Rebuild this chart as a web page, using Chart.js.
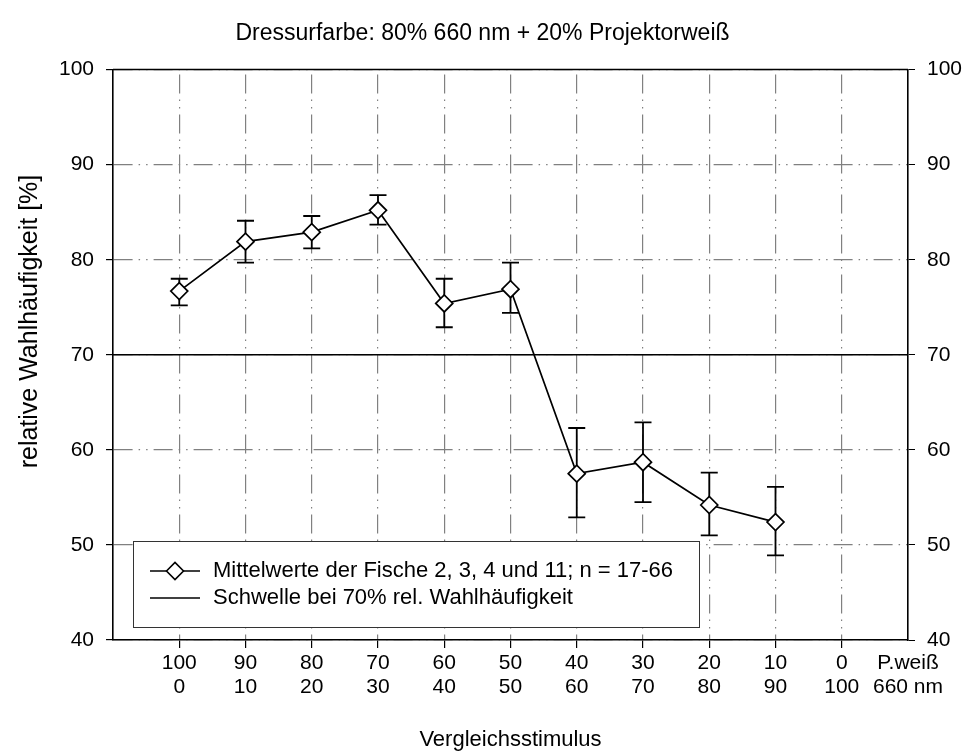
<!DOCTYPE html>
<html>
<head>
<meta charset="utf-8">
<title>Wahlhäufigkeit</title>
<style>
  html, body { margin: 0; padding: 0; background: #fff; }
</style>
</head>
<body>
<canvas id="wahl" width="965" height="755"></canvas>

<script src="https://cdn.jsdelivr.net/npm/chart.js@4.4.1/dist/chart.umd.min.js"></script>
<script>
	// Vergleichsstimuli: obere Zeile Anteil Projektorweiß, untere Zeile Anteil 660 nm
	var anteilWeiss = ["100", "90", "80", "70", "60", "50", "40", "30", "20", "10", "0"];
	var anteil660 = ["0", "10", "20", "30", "40", "50", "60", "70", "80", "90", "100"];
	var einheiten = ["P.weiß", "660 nm"];

	// Mittelwerte mit oberer und unterer Grenze der Fehlerbalken
	var mittelwerte = [76.7, 81.9, 82.9, 85.2, 75.4, 76.9, 57.5, 58.7, 54.2, 52.4];
	var fehlerOben = [78.0, 84.1, 84.6, 86.8, 78.0, 79.7, 62.3, 62.9, 57.6, 56.1];
	var fehlerUnten = [75.2, 79.7, 81.2, 83.7, 72.9, 74.4, 52.9, 54.5, 51.0, 48.9];

	var schwelle = 70;
	var yTicks = [40, 50, 60, 70, 80, 90, 100];
	var yTitel = "relative Wahlhäufigkeit [%]";

	var schrift = "'Liberation Sans', Arial, sans-serif";
	var gitterFarbe = "#808080";
	var gitterStrich = [19, 6, 1.5, 6, 1.5, 6];

	// Punkte und Schwellenlinie aus den Arrays
	var punkte = mittelwerte.map(function(w, i){ return {x: i + 1, y: w}; });
	var schwellenLinie = [{x: 0, y: schwelle}, {x: anteilWeiss.length + 1, y: schwelle}];

	// Fehlerbalken unter den Rauten
	var fehlerbalken = {
		id: "fehlerbalken",
		beforeDatasetsDraw: function(chart){
			var sx = chart.scales.x, sy = chart.scales.y, ctx = chart.ctx;
			ctx.save();
			ctx.strokeStyle = "#000";
			ctx.lineWidth = 1.8;
			mittelwerte.forEach(function(w, i){
				var px = sx.getPixelForValue(i + 1);
				var yo = sy.getPixelForValue(fehlerOben[i]);
				var yu = sy.getPixelForValue(fehlerUnten[i]);
				ctx.beginPath();
				ctx.moveTo(px, yo); ctx.lineTo(px, yu);
				ctx.moveTo(px - 8.5, yo); ctx.lineTo(px + 8.5, yo);
				ctx.moveTo(px - 8.5, yu); ctx.lineTo(px + 8.5, yu);
				ctx.stroke();
			});
			ctx.restore();
		}
	};

	// Oberer Rahmen, y-Achsentitel und Legende im Diagramm
	var rahmenLegende = {
		id: "rahmenLegende",
		afterDraw: function(chart){
			var a = chart.chartArea, ctx = chart.ctx;
			var ds = chart.data.datasets;
			ctx.save();
			ctx.strokeStyle = "#000";
			ctx.lineWidth = 1.5;
			ctx.beginPath();
			ctx.moveTo(a.left, a.top);
			ctx.lineTo(a.right, a.top);
			ctx.stroke();

			// Achsentitel links, etwas oberhalb der Mitte
			ctx.save();
			ctx.translate(30, chart.scales.y.getPixelForValue(73.5));
			ctx.rotate(-Math.PI / 2);
			ctx.fillStyle = "#000";
			ctx.font = "25px " + schrift;
			ctx.textAlign = "center";
			ctx.textBaseline = "middle";
			ctx.fillText(yTitel, 0, 0);
			ctx.restore();

			var bx = a.left + 20, by = a.bottom - 99, bw = 566, bh = 86;
			ctx.fillStyle = "#fff";
			ctx.fillRect(bx, by, bw, bh);
			ctx.strokeStyle = "#333";
			ctx.lineWidth = 1;
			ctx.strokeRect(bx + 0.5, by + 0.5, bw, bh);

			var zeilen = [by + 30, by + 57];
			ctx.strokeStyle = "#000";
			ctx.lineWidth = 1.6;
			zeilen.forEach(function(zy){
				ctx.beginPath();
				ctx.moveTo(bx + 17, zy);
				ctx.lineTo(bx + 67, zy);
				ctx.stroke();
			});
			// Raute im ersten Eintrag
			var rx = bx + 42, ry = zeilen[0], r = 8.5;
			ctx.beginPath();
			ctx.moveTo(rx - r, ry); ctx.lineTo(rx, ry - r);
			ctx.lineTo(rx + r, ry); ctx.lineTo(rx, ry + r);
			ctx.closePath();
			ctx.fillStyle = "#fff";
			ctx.fill();
			ctx.stroke();

			ctx.fillStyle = "#000";
			ctx.font = "22px " + schrift;
			ctx.textBaseline = "middle";
			ctx.textAlign = "left";
			ctx.fillText(ds[0].label, bx + 80, zeilen[0]);
			ctx.fillText(ds[1].label, bx + 80, zeilen[1]);
			ctx.restore();
		}
	};

	Chart.defaults.font.family = schrift;
	Chart.defaults.color = "#000";

	var myChart = new Chart(document.getElementById("wahl"), {
		type: "line",
		data: {
			datasets: [{
				label: "Mittelwerte der Fische 2, 3, 4 und 11; n = 17-66",
				data: punkte,
				borderColor: "#000",
				borderWidth: 1.7,
				pointStyle: "rectRot",
				pointRadius: 8.5,
				pointBorderWidth: 1.7,
				pointBackgroundColor: "#fff",
				pointBorderColor: "#000",
				tension: 0
			}, {
				label: "Schwelle bei 70% rel. Wahlhäufigkeit",
				data: schwellenLinie,
				borderColor: "#000",
				borderWidth: 1.5,
				pointRadius: 0
			}]
		},
		options: {
			responsive: false,
			animation: false,
			layout: { padding: 0 },
			plugins: {
				legend: { display: false },
				tooltip: { enabled: false },
				title: {
					display: true,
					text: "Dressurfarbe: 80% 660 nm + 20% Projektorweiß",
					font: { size: 23, weight: "normal" },
					color: "#000",
					padding: { top: 20, bottom: 22 }
				}
			},
			scales: {
				x: {
					type: "linear",
					min: 0,
					max: anteilWeiss.length + 1,
					afterBuildTicks: function(scale){
						var t = [];
						for(var i = 1; i <= anteilWeiss.length + 1; i++) t.push({value: i});
						scale.ticks = t;
					},
					afterFit: function(scale){ scale.height = 115; },
					ticks: {
						autoSkip: false,
						maxRotation: 0,
						padding: 3,
						font: { size: 21, lineHeight: 1.15 },
						callback: function(v){
							if(v > anteilWeiss.length) return einheiten;
							return [anteilWeiss[v - 1], anteil660[v - 1]];
						}
					},
					grid: {
						color: function(c){ return c.tick && c.tick.value > anteilWeiss.length ? "transparent" : gitterFarbe; },
						tickColor: function(c){ return c.tick && c.tick.value > anteilWeiss.length ? "transparent" : "#000"; },
						tickLength: 8,
						lineWidth: 1.2
					},
					border: { color: "#000", width: 1.6, dash: gitterStrich, dashOffset: -5 },
					title: {
						display: true,
						text: "Vergleichsstimulus",
						font: { size: 22 },
						padding: { top: 0, bottom: 2 }
					}
				},
				y: {
					position: "left",
					min: 40,
					max: 100,
					afterBuildTicks: function(scale){
						scale.ticks = yTicks.map(function(v){ return {value: v}; });
					},
					afterFit: function(scale){ scale.width = 113; },
					ticks: { padding: 12, font: { size: 21 } },
					grid: {
						color: gitterFarbe,
						tickColor: "#000",
						tickLength: 7,
						lineWidth: 1.2
					},
					border: { color: "#000", width: 1.6, dash: gitterStrich }
				},
				y2: {
					position: "right",
					min: 40,
					max: 100,
					afterBuildTicks: function(scale){
						scale.ticks = yTicks.map(function(v){ return {value: v}; });
					},
					afterFit: function(scale){ scale.width = 57; },
					ticks: { padding: 12, font: { size: 21 } },
					grid: {
						drawOnChartArea: false,
						tickColor: "#000",
						tickLength: 7
					},
					border: { color: "#000", width: 1.6 }
				}
			}
		},
		plugins: [fehlerbalken, rahmenLegende]
	});
</script>
</body>
</html>
